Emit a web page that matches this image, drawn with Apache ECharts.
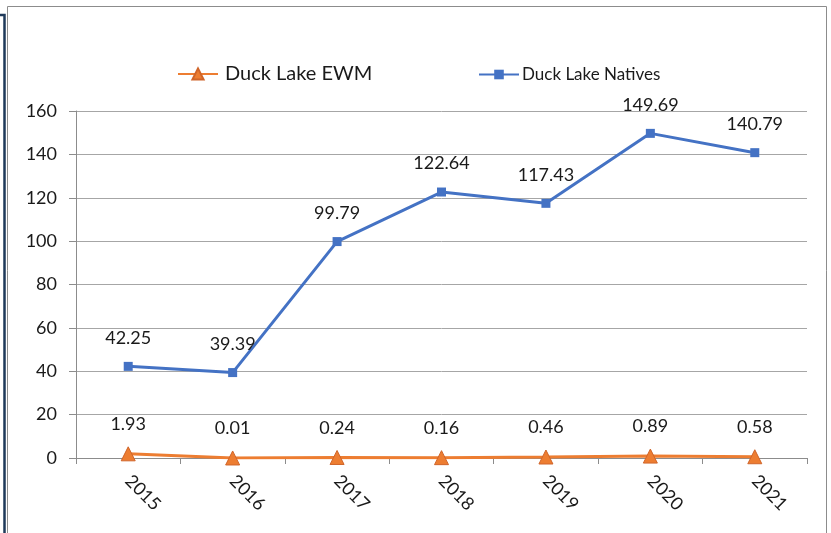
<!DOCTYPE html>
<html><head><meta charset="utf-8">
<script src="https://cdn.jsdelivr.net/npm/echarts@6/dist/echarts.min.js"></script>
<style>html,body{margin:0;padding:0;background:#fff}#c{width:831px;height:533px}</style>
</head><body><div id="c"></div>
<script>
const years = ['2015','2016','2017','2018','2019','2020','2021'];
const ewm = [1.93, 0.01, 0.24, 0.16, 0.46, 0.89, 0.58];
const natives = [42.25, 39.39, 99.79, 122.64, 117.43, 149.69, 140.79];
const yTicks = {min: 0, max: 160, interval: 20};

const font = 'Lato, "Liberation Sans", sans-serif';
const chart = echarts.init(document.getElementById('c'), null, {renderer: 'canvas'});
chart.setOption({
  backgroundColor: '#fff',
  animation: false,
  graphic: [
    {type: 'rect', shape: {x: 7.5, y: 6.5, width: 819, height: 540}, style: {fill: 'none', stroke: '#8c8c8c', lineWidth: 1}},
    {type: 'polyline', shape: {points: [[0, 15], [4.5, 15], [4.5, 540]]}, style: {fill: 'none', stroke: '#1f3a5a', lineWidth: 2.5}}
  ],
  legend: [
    {data: ['Duck Lake EWM'], left: 172, top: 59, itemWidth: 40, itemHeight: 14, itemGap: 5,
     textStyle: {fontFamily: font, fontSize: 20, color: '#1a1a1a', padding: [0, 0, 0, 2]}},
    {data: ['Duck Lake Natives'], left: 473, top: 61, itemWidth: 40, itemHeight: 12, itemGap: 2,
     textStyle: {fontFamily: font, fontSize: 17, color: '#1a1a1a', padding: [0, 0, 0, -2]}}
  ],
  grid: {left: 76, right: 24, top: 111, bottom: 75},
  xAxis: {
    type: 'category', data: years, boundaryGap: true,
    axisLine: {lineStyle: {color: '#8c8c8c', width: 1}},
    axisTick: {show: true, length: 6, lineStyle: {color: '#8c8c8c'}},
    axisLabel: {rotate: -45, fontFamily: font, fontSize: 18, color: '#1a1a1a', margin: 20}
  },
  yAxis: {
    type: 'value', min: yTicks.min, max: yTicks.max, interval: yTicks.interval,
    axisLine: {show: true, lineStyle: {color: '#8c8c8c'}},
    axisTick: {show: true, length: 7, lineStyle: {color: '#8c8c8c'}},
    splitLine: {lineStyle: {color: '#a6a6a6', width: 1}},
    axisLabel: {fontFamily: font, fontSize: 18, color: '#1a1a1a', margin: 19}
  },
  series: [
    {name: 'Duck Lake EWM', type: 'line', data: ewm, symbol: 'triangle', symbolSize: 14,
     itemStyle: {color: '#ED7D31', borderColor: '#d0652a', borderWidth: 1},
     lineStyle: {color: '#ED7D31', width: 3},
     label: {show: true, position: 'top', distance: 13, fontFamily: font, fontSize: 18, color: '#1a1a1a'}},
    {name: 'Duck Lake Natives', type: 'line', data: natives, symbol: 'rect', symbolSize: 9,
     itemStyle: {color: '#4472C4'},
     lineStyle: {color: '#4472C4', width: 3},
     label: {show: true, position: 'top', distance: 15, fontFamily: font, fontSize: 18, color: '#1a1a1a'}}
  ]
});
</script></body></html>
